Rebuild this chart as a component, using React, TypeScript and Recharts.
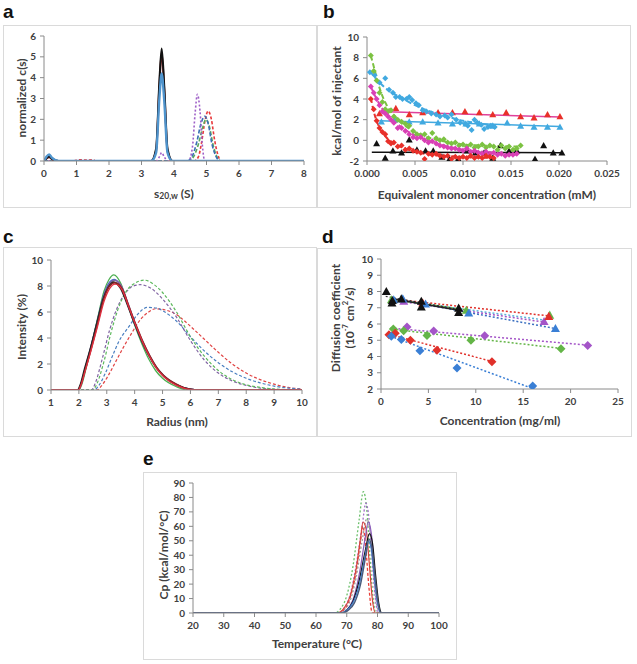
import React from "react"
import { ComposedChart, Line, Scatter, XAxis, YAxis } from "recharts"

type Pt = [number, number]

// ---------- panel a : c(s) distributions ----------
const aBlack: Pt[] = [[0, 0], [0.08, 0.15], [0.16, 0.22], [0.25, 0.1], [0.45, 0], [3.3, 0], [3.45, 0.6], [3.55, 3.8], [3.62, 5.4], [3.7, 3.6], [3.8, 0.6], [3.95, 0], [8, 0]]
const aDarkRed: Pt[] = [[0, 0], [0.08, 0.12], [0.16, 0.18], [0.25, 0.08], [0.45, 0], [3.3, 0], [3.45, 0.5], [3.55, 3.6], [3.62, 5.2], [3.7, 3.4], [3.8, 0.5], [3.95, 0], [8, 0]]
const aBlue: Pt[] = [[0, 0], [0.08, 0.22], [0.16, 0.32], [0.25, 0.15], [0.45, 0], [3.3, 0], [3.45, 0.4], [3.55, 3.0], [3.62, 4.2], [3.7, 2.9], [3.8, 0.4], [3.95, 0], [8, 0]]
const aPurpleD: Pt[] = [[0, 0], [3.45, 0], [3.55, 0.2], [3.62, 0.4], [3.7, 0.2], [3.8, 0], [4.45, 0], [4.57, 0.7], [4.65, 2.3], [4.72, 3.2], [4.8, 2.4], [4.87, 0.8], [4.95, 0], [8, 0]]
const aRedD: Pt[] = [[0, 0], [0.9, 0], [1.1, 0.06], [1.3, 0.04], [1.5, 0.06], [1.6, 0], [4.62, 0], [4.75, 0.2], [4.85, 0.9], [4.95, 1.9], [5.05, 2.4], [5.15, 2.0], [5.25, 1.0], [5.35, 0.3], [5.45, 0], [8, 0]]
const aGreenD: Pt[] = [[0, 0], [4.45, 0], [4.6, 0.2], [4.75, 0.8], [4.88, 1.6], [4.98, 2.0], [5.08, 1.7], [5.2, 0.8], [5.32, 0.2], [5.45, 0], [8, 0]]
const aBlueD: Pt[] = [[0, 0], [4.4, 0], [4.55, 0.2], [4.7, 0.9], [4.83, 1.8], [4.95, 2.15], [5.05, 1.8], [5.17, 0.8], [5.3, 0.2], [5.42, 0], [8, 0]]
const aXTicks = [0, 1, 2, 3, 4, 5, 6, 7, 8]
const aYTicks = [0, 1, 2, 3, 4, 5, 6]

// ---------- panel b : ITC ----------
const bBlueDia: Pt[] = [[0.0003, 6.6], [0.0008, 6.3], [0.0013, 5.6], [0.0019, 6.0], [0.0023, 4.9], [0.0027, 4.6], [0.003, 4.2], [0.0034, 4.2], [0.0037, 4.0], [0.0041, 4.0], [0.0044, 4.2], [0.0047, 3.9], [0.0051, 3.6], [0.0054, 3.4], [0.0058, 2.9], [0.0062, 2.8], [0.0067, 2.6], [0.0072, 2.5], [0.0076, 2.3], [0.0081, 2.4], [0.0084, 2.2], [0.0088, 2.5], [0.0093, 2.0], [0.0097, 1.7], [0.0102, 1.6], [0.0105, 1.4], [0.0109, 1.0], [0.0112, 2.0], [0.0115, 1.7], [0.0119, 1.5], [0.0122, 1.1], [0.0126, 1.3], [0.0129, 1.4], [0.0133, 1.3]]
const bGreenDia: Pt[] = [[0.0004, 8.2], [0.0007, 6.7], [0.001, 5.8], [0.0013, 4.6], [0.0016, 3.7], [0.0019, 3.0], [0.0022, 2.8], [0.0025, 2.9], [0.0028, 2.3], [0.0032, 2.0], [0.0036, 1.8], [0.004, 1.6], [0.0044, 1.4], [0.0048, 0.9], [0.0052, 0.6], [0.0056, 0.5], [0.006, 0.6], [0.0064, 0.2], [0.0068, 0.7], [0.0072, 0.2], [0.0076, 0.0], [0.008, 0.1], [0.0084, -0.2], [0.0088, -0.3], [0.0092, -0.2], [0.0096, -0.5], [0.01, -0.4], [0.0104, -0.6], [0.0108, -0.4], [0.0112, -0.7], [0.0116, -0.6], [0.012, -0.4], [0.0124, -0.7], [0.0128, -0.5], [0.0132, -0.6], [0.0136, -0.9], [0.014, -0.5], [0.0144, -0.8], [0.0148, -0.6], [0.0152, -0.9], [0.0156, -0.8], [0.016, -0.5]]
const bMagentaDia: Pt[] = [[0.0004, 5.2], [0.0007, 4.6], [0.001, 4.0], [0.0013, 3.4], [0.0016, 2.8], [0.0019, 2.6], [0.0022, 2.3], [0.0025, 2.0], [0.0028, 1.7], [0.0032, 1.2], [0.0036, 1.2], [0.004, 0.9], [0.0044, 0.6], [0.0048, 0.3], [0.0052, 0.2], [0.0056, 0.3], [0.006, 0.0], [0.0064, -0.2], [0.0068, -0.1], [0.0072, -0.3], [0.0076, -0.5], [0.008, -0.6], [0.0084, -0.7], [0.0088, -0.8], [0.0092, -0.8], [0.0096, -0.9], [0.01, -1.0], [0.0104, -0.8], [0.0108, -1.1], [0.0112, -1.0], [0.0116, -1.2], [0.012, -1.3], [0.0124, -1.1], [0.0128, -1.3], [0.0132, -1.2], [0.0136, -1.4], [0.014, -1.3], [0.0144, -1.5], [0.0148, -1.4], [0.0152, -1.4], [0.0156, -1.3]]
const bRedDia: Pt[] = [[0.0004, 4.0], [0.0007, 3.0], [0.001, 1.9], [0.0013, 1.2], [0.0016, 0.8], [0.0019, 0.6], [0.0022, -0.1], [0.0025, -0.3], [0.0028, -0.2], [0.0032, -0.6], [0.0036, -0.5], [0.004, -0.9], [0.0044, -0.8], [0.0048, -1.0], [0.0052, -1.1], [0.0056, -1.2], [0.006, -1.8], [0.0064, -1.3], [0.0068, -1.4], [0.0072, -1.3], [0.0076, -1.5], [0.008, -1.6], [0.0084, -1.5], [0.0088, -1.8], [0.0092, -1.6], [0.0096, -1.7], [0.01, -1.6], [0.0104, -1.7], [0.0108, -1.5], [0.0112, -1.7], [0.0116, -1.6], [0.012, -1.7], [0.0124, -1.5], [0.0128, -1.6], [0.0132, -1.7]]
const bRedTri: Pt[] = [[0.0013, 2.6], [0.003, 3.1], [0.0044, 2.5], [0.0058, 2.7], [0.0074, 2.7], [0.0089, 2.7], [0.0102, 2.8], [0.0117, 2.7], [0.0131, 2.5], [0.0145, 2.7], [0.016, 2.3], [0.0174, 2.2], [0.0188, 2.5], [0.0201, 2.3]]
const bBlueTri: Pt[] = [[0.0015, 1.8], [0.0029, 2.0], [0.0044, 1.8], [0.0058, 1.8], [0.0074, 1.7], [0.0089, 1.6], [0.0103, 1.6], [0.0117, 1.6], [0.0131, 1.4], [0.0146, 1.7], [0.016, 1.4], [0.0174, 1.3], [0.0188, 1.3], [0.0201, 1.3]]
const bBlackTri: Pt[] = [[0.001, -0.3], [0.0019, -1.7], [0.0027, -1.0], [0.0036, -1.2], [0.0044, 0.05], [0.0052, -0.9], [0.0061, -1.0], [0.0069, -1.0], [0.0078, -1.6], [0.0086, -1.8], [0.0095, -1.8], [0.0104, -1.0], [0.0113, -1.2], [0.0122, -1.2], [0.0131, -1.7], [0.0139, -0.5], [0.0148, -1.0], [0.0156, -1.0], [0.0175, -1.8], [0.0184, -0.5], [0.0194, -1.2], [0.0203, -1.2]]
const bBlueFit: Pt[] = [[0.0003, 6.7], [0.001, 5.9], [0.002, 5.0], [0.003, 4.4], [0.004, 3.9], [0.005, 3.4], [0.006, 3.0], [0.008, 2.4], [0.01, 1.9], [0.012, 1.6], [0.0135, 1.4]]
const bGreenFit: Pt[] = [[0.0004, 8.2], [0.0008, 6.8], [0.0012, 5.4], [0.0016, 4.3], [0.002, 3.5], [0.003, 2.2], [0.004, 1.4], [0.005, 0.8], [0.006, 0.4], [0.008, -0.1], [0.01, -0.4], [0.012, -0.5], [0.016, -0.6]]
const bMagentaFit: Pt[] = [[0.0004, 5.2], [0.001, 4.0], [0.0015, 3.2], [0.002, 2.6], [0.003, 1.7], [0.004, 1.0], [0.005, 0.5], [0.006, 0.1], [0.008, -0.5], [0.01, -0.9], [0.012, -1.1], [0.0155, -1.4]]
const bRedFit: Pt[] = [[0.0004, 4.1], [0.0007, 2.8], [0.001, 1.9], [0.0015, 0.9], [0.002, 0.3], [0.003, -0.4], [0.004, -0.8], [0.005, -1.1], [0.006, -1.3], [0.008, -1.5], [0.01, -1.6], [0.013, -1.7]]
const bPinkLine: Pt[] = [[0.0013, 2.8], [0.0201, 2.25]]
const bBlueLine: Pt[] = [[0.0013, 1.9], [0.0201, 1.35]]
const bBlackLine: Pt[] = [[0.0005, -1.15], [0.0203, -1.2]]
const bXTicks = [0, 0.005, 0.01, 0.015, 0.02, 0.025]
const bYTicks = [-2, 0, 2, 4, 6, 8, 10]

// ---------- panel c : DLS intensity ----------
const cGreen: Pt[] = [[1, 0], [2.0, 0], [2.1, 0.4], [2.25, 1.6], [2.45, 3.4], [2.68, 5.6], [2.9, 7.6], [3.08, 8.5], [3.25, 8.85], [3.5, 8.2], [3.75, 6.6], [4.0, 5.0], [4.25, 3.6], [4.5, 2.4], [4.75, 1.5], [5.0, 0.9], [5.5, 0.25], [5.9, 0], [10, 0]]
const cBlue: Pt[] = [[1, 0], [1.97, 0], [2.07, 0.4], [2.22, 1.6], [2.42, 3.2], [2.66, 5.3], [2.88, 7.2], [3.07, 8.2], [3.27, 8.5], [3.5, 8.0], [3.75, 6.6], [4.0, 5.1], [4.25, 3.8], [4.5, 2.7], [4.75, 1.8], [5.0, 1.15], [5.5, 0.4], [6.0, 0.05], [6.3, 0], [10, 0]]
const cPurple: Pt[] = [[1, 0], [1.97, 0], [2.07, 0.4], [2.22, 1.6], [2.42, 3.2], [2.66, 5.2], [2.88, 7.1], [3.07, 8.1], [3.28, 8.45], [3.52, 8.0], [3.77, 6.6], [4.02, 5.1], [4.27, 3.8], [4.52, 2.7], [4.77, 1.8], [5.02, 1.15], [5.5, 0.4], [6.0, 0.05], [6.3, 0], [10, 0]]
const cBlack: Pt[] = [[1, 0], [1.95, 0], [2.05, 0.4], [2.2, 1.6], [2.4, 3.1], [2.64, 5.1], [2.87, 7.0], [3.05, 7.9], [3.25, 8.3], [3.5, 7.8], [3.75, 6.5], [4.0, 5.1], [4.25, 3.8], [4.5, 2.7], [4.75, 1.8], [5.0, 1.15], [5.5, 0.4], [6.0, 0.05], [6.3, 0], [10, 0]]
const cDarkRed: Pt[] = [[1, 0], [1.97, 0], [2.07, 0.4], [2.22, 1.5], [2.42, 3.0], [2.66, 5.0], [2.88, 6.9], [3.07, 7.9], [3.3, 8.25], [3.55, 7.8], [3.8, 6.4], [4.05, 5.0], [4.3, 3.7], [4.55, 2.6], [4.8, 1.7], [5.05, 1.1], [5.5, 0.45], [6.0, 0.05], [6.3, 0], [10, 0]]
const cRed: Pt[] = [[1, 0], [1.98, 0], [2.08, 0.4], [2.23, 1.5], [2.43, 3.0], [2.67, 4.9], [2.9, 6.8], [3.1, 7.8], [3.3, 8.15], [3.55, 7.7], [3.8, 6.3], [4.05, 4.9], [4.3, 3.6], [4.55, 2.5], [4.8, 1.6], [5.05, 1.0], [5.5, 0.35], [6.0, 0.03], [6.3, 0], [10, 0]]
const cGreenD: Pt[] = [[1, 0], [2.5, 0], [2.65, 0.5], [2.9, 2.2], [3.15, 4.4], [3.4, 6.2], [3.7, 7.6], [4.0, 8.2], [4.35, 8.45], [4.7, 8.1], [5.0, 7.5], [5.5, 6.0], [6.0, 4.1], [6.5, 2.6], [7.0, 1.5], [7.5, 0.8], [8.0, 0.4], [8.5, 0.2], [9.0, 0.08], [9.5, 0.02], [10, 0]]
const cPurpleD: Pt[] = [[1, 0], [2.45, 0], [2.6, 0.6], [2.85, 2.5], [3.1, 4.6], [3.35, 6.2], [3.65, 7.4], [3.95, 8.0], [4.2, 8.1], [4.6, 7.8], [5.0, 7.0], [5.5, 5.6], [6.0, 3.8], [6.5, 2.3], [7.0, 1.3], [7.5, 0.7], [8.0, 0.35], [8.5, 0.15], [9.0, 0.05], [9.5, 0], [10, 0]]
const cBlueD: Pt[] = [[1, 0], [2.55, 0], [2.7, 0.3], [2.95, 1.3], [3.2, 2.6], [3.45, 3.8], [3.8, 4.9], [4.1, 5.8], [4.45, 6.35], [4.8, 6.3], [5.0, 6.1], [5.5, 5.3], [6.0, 4.1], [6.5, 3.0], [7.0, 2.1], [7.5, 1.4], [8.0, 0.9], [8.5, 0.55], [9.0, 0.3], [9.5, 0.15], [10, 0.07]]
const cRedD: Pt[] = [[1, 0], [2.65, 0], [2.8, 0.3], [3.05, 1.1], [3.3, 2.1], [3.6, 3.3], [3.9, 4.4], [4.2, 5.4], [4.5, 6.0], [4.75, 6.25], [5.0, 6.2], [5.5, 5.8], [6.0, 4.9], [6.5, 3.9], [7.0, 2.9], [7.5, 2.0], [8.0, 1.3], [8.5, 0.8], [9.0, 0.45], [9.5, 0.2], [10, 0.08]]
const cXTicks = [1, 2, 3, 4, 5, 6, 7, 8, 9, 10]
const cYTicks = [0, 2, 4, 6, 8, 10]

// ---------- panel d : diffusion coefficient ----------
const dBlackTri: Pt[] = [[0.56, 8.0], [1.16, 7.3], [1.2, 7.45], [2.14, 7.55], [4.25, 7.4], [4.25, 7.05], [8.19, 6.98], [8.19, 6.72]]
const dBlueTri: Pt[] = [[1.34, 7.5], [2.3, 7.55], [4.7, 7.23], [9.25, 6.68], [18.4, 5.73]]
const dRedTri: Pt[] = [[4.4, 7.3], [17.7, 6.47]]
const dPurpleTri: Pt[] = [[2.4, 7.4], [17.2, 6.16]]
const dGreenTri: Pt[] = [[1.1, 7.5], [9.0, 6.85], [17.8, 6.55]]
const dPurpleDia: Pt[] = [[2.74, 5.82], [5.56, 5.57], [10.94, 5.28], [21.8, 4.67]]
const dGreenDia: Pt[] = [[1.3, 5.69], [2.39, 5.59], [4.85, 5.3], [9.49, 5.0], [18.99, 4.48]]
const dRedDia: Pt[] = [[0.84, 5.34], [1.5, 5.43], [3.1, 5.0], [5.9, 4.38], [11.7, 3.68]]
const dBlueDia: Pt[] = [[1.09, 5.24], [2.14, 5.04], [4.11, 4.36], [8.02, 3.29], [16.0, 2.18]]
const dBlackFit: Pt[] = [[1.0, 7.57], [8.2, 6.85]]
const dBlackDotFit: Pt[] = [[0.5, 7.7], [8.2, 6.9]]
const dRedFit: Pt[] = [[1.0, 7.55], [17.7, 6.5]]
const dCyanFit: Pt[] = [[1.3, 7.5], [17.2, 6.25]]
const dPurpleTriFit: Pt[] = [[2.2, 7.38], [17.2, 6.12]]
const dBlueTriFit: Pt[] = [[1.0, 7.6], [18.4, 5.72]]
const dGreenTriFit: Pt[] = [[1.1, 7.5], [9.0, 6.88]]
const dPurpleFit: Pt[] = [[1.0, 5.75], [21.8, 4.7]]
const dGreenFit: Pt[] = [[1.2, 5.68], [19.0, 4.5]]
const dRedFit2: Pt[] = [[0.6, 5.4], [11.7, 3.7]]
const dBlueFit: Pt[] = [[1.0, 5.25], [15.9, 2.05]]
const dXTicks = [0, 5, 10, 15, 20, 25]
const dYTicks = [2, 3, 4, 5, 6, 7, 8, 9, 10]

// ---------- panel e : DSC ----------
const eGreenD: Pt[] = [[20, 0], [66, 0], [68, 3], [70, 12], [72, 32], [74, 64], [75.4, 84], [76.5, 72], [77.5, 40], [78.5, 12], [79.5, 0], [100, 0]]
const ePurpleD: Pt[] = [[20, 0], [67, 0], [69, 3], [71, 12], [73, 32], [75, 60], [76.2, 76], [77.2, 66], [78.2, 38], [79.2, 12], [80.2, 0], [100, 0]]
const eGrayD: Pt[] = [[20, 0], [67, 0], [69, 2], [71, 8], [73, 24], [75, 50], [76.5, 65], [77.5, 58], [78.5, 34], [79.5, 10], [80.5, 0], [100, 0]]
const eRedD: Pt[] = [[20, 0], [67, 0], [69, 2], [71, 10], [73, 28], [74.5, 50], [75.2, 60], [76.2, 45], [77.2, 18], [78.3, 0], [100, 0]]
const eRed: Pt[] = [[20, 0], [67, 0], [69, 3], [71, 11], [73, 30], [74.5, 52], [75.3, 63], [76.3, 58], [77.3, 35], [78.3, 10], [79.3, 0], [100, 0]]
const ePurple: Pt[] = [[20, 0], [68, 0], [70, 2], [72, 9], [74, 26], [76, 52], [77, 63], [78, 55], [79, 30], [80, 8], [81, 0], [100, 0]]
const eBlack: Pt[] = [[20, 0], [68, 0], [70, 2], [72, 8], [74, 22], [76, 43], [77.4, 55], [78.4, 48], [79.4, 26], [80.4, 7], [81.4, 0], [100, 0]]
const eBlue: Pt[] = [[20, 0], [68, 0], [70, 2], [72, 7], [74, 19], [76, 40], [77, 50], [78, 44], [79, 24], [80, 7], [81, 0], [100, 0]]
const eNavy: Pt[] = [[20, 0], [68.5, 0], [70.5, 2], [72.5, 7], [74.5, 20], [76.3, 41], [77.2, 51], [78.2, 45], [79.2, 25], [80.2, 7], [81.2, 0], [100, 0]]
const eXTicks = [20, 30, 40, 50, 60, 70, 80, 90, 100]
const eYTicks = [0, 10, 20, 30, 40, 50, 60, 70, 80, 90]

const TICK_FONT = "Lato, 'Liberation Sans', sans-serif"
const AXIS = "#8a8a8a"

const toXY = (pts: Pt[]) => pts.map(([x, y]) => ({ x, y }))

function curve(key: string, pts: Pt[], color: string, width = 1.5, dash?: string, type: any = "monotone") {
	return (
		<Line key={key} data={toXY(pts)} dataKey="y" type={type} stroke={color} strokeWidth={width}
			strokeDasharray={dash} dot={false} activeDot={false} isAnimationActive={false} />
	)
}

function marks(key: string, pts: Pt[], color: string, kind: "dia" | "tri", r = 3.5) {
	const shape = (p: any) => {
		const { cx, cy } = p
		const d = kind === "dia"
			? `M${cx},${cy - r}L${cx + r},${cy}L${cx},${cy + r}L${cx - r},${cy}Z`
			: `M${cx},${cy - r}L${cx + r},${cy + r * 0.8}L${cx - r},${cy + r * 0.8}Z`
		return <path d={d} fill={color} />
	}
	return <Scatter key={key} data={toXY(pts)} dataKey="y" shape={shape} isAnimationActive={false} />
}

type ChartProps = {
	left: number; top: number; width: number; height: number
	pl: number; pt: number; pr: number; pb: number
	xDomain: number[]; xTicks: number[]; yDomain: number[]; yTicks: number[]
	xFmt?: (v: number) => string
	children: React.ReactNode
}

function Chart(p: ChartProps) {
	const tick = { fill: "#404040", fontSize: 10, fontWeight: 700, fontFamily: TICK_FONT }
	return (
		<>
			<div style={{ position: "absolute", left: p.left, top: p.top, width: p.width, height: p.height, border: "1px solid #dadada", boxSizing: "border-box" }} />
			<div style={{ position: "absolute", left: p.left, top: p.top }}>
				<ComposedChart width={p.width} height={p.height} margin={{ top: p.pt, right: p.pr, bottom: p.pb - 26, left: 0 }}>
					<XAxis type="number" dataKey="x" domain={p.xDomain} ticks={p.xTicks} interval={0} allowDataOverflow
						height={26} tick={tick} tickSize={4} tickMargin={5} tickFormatter={p.xFmt}
						axisLine={{ stroke: AXIS }} tickLine={{ stroke: AXIS }} />
					<YAxis type="number" domain={p.yDomain} ticks={p.yTicks} interval={0} allowDataOverflow
						width={p.pl} tick={tick} tickSize={4} tickMargin={4}
						axisLine={{ stroke: AXIS }} tickLine={{ stroke: AXIS }} />
					{p.children}
				</ComposedChart>
			</div>
		</>
	)
}

const titleStyle = { fontFamily: TICK_FONT, fontWeight: 700, fontSize: 12, fill: "#404040" } as const
const letterStyle = { fontFamily: "'Liberation Sans', Arial, sans-serif", fontWeight: 700, fontSize: 19, fill: "#111" } as const

function VTitle({ x, y, children }: { x: number; y: number; children: React.ReactNode }) {
	return (
		<text x={x} y={y} transform={`rotate(-90 ${x} ${y})`} textAnchor="middle" dominantBaseline="central" style={titleStyle}>
			{children}
		</text>
	)
}

function HTitle({ x, y, children }: { x: number; y: number; children: React.ReactNode }) {
	return (
		<text x={x} y={y} textAnchor="middle" dominantBaseline="central" style={titleStyle}>
			{children}
		</text>
	)
}

export default function App() {
	return (
		<div style={{ position: "absolute", left: 0, top: 0, width: 637, height: 664, background: "#fff", overflow: "hidden" }}>
			{/* a */}
			<Chart left={3} top={25} width={314} height={183} pl={41} pt={11} pr={13} pb={47}
				xDomain={[0, 8]} xTicks={aXTicks} yDomain={[0, 6]} yTicks={aYTicks}>
				{[
					curve("aRedD", aRedD, "#e8393b", 1.6, "3 2"),
					curve("aGreenD", aGreenD, "#5aa85a", 1.6, "4 2"),
					curve("aBlueD", aBlueD, "#3b6fb5", 1.6, "4 2"),
					curve("aPurpleD", aPurpleD, "#9e5fc7", 1.6, "2 2"),
					curve("aDarkRed", aDarkRed, "#8b2a2a", 2),
					curve("aBlack", aBlack, "#111", 2),
					curve("aBlue", aBlue, "#4f94cd", 2.4),
				]}
			</Chart>

			{/* b */}
			<Chart left={317} top={25} width={314} height={183} pl={50} pt={12} pr={24} pb={47}
				xDomain={[0, 0.025]} xTicks={bXTicks} yDomain={[-2, 10]} yTicks={bYTicks}
				xFmt={(v) => v.toFixed(3)}>
				{[
					curve("bBlackLine", bBlackLine, "#111", 1.5, undefined, "linear"),
					marks("bBlackTri", bBlackTri, "#111", "tri"),
					curve("bBlueLine", bBlueLine, "#41a9e0", 1.5, undefined, "linear"),
					curve("bPinkLine", bPinkLine, "#e0409a", 1.5, undefined, "linear"),
					marks("bBlueTri", bBlueTri, "#41a9e0", "tri"),
					marks("bRedTri", bRedTri, "#e8302a", "tri"),
					curve("bBlueFit", bBlueFit, "#41a9e0", 2, "5 3"),
					marks("bBlueDia", bBlueDia, "#41a9e0", "dia", 3),
					curve("bGreenFit", bGreenFit, "#7cc242", 2, "5 3"),
					marks("bGreenDia", bGreenDia, "#7cc242", "dia", 3),
					curve("bMagentaFit", bMagentaFit, "#d940b5", 2, "5 3"),
					marks("bMagentaDia", bMagentaDia, "#d940b5", "dia", 3),
					curve("bRedFit", bRedFit, "#e8302a", 2, "5 3"),
					marks("bRedDia", bRedDia, "#e8302a", "dia", 3),
				]}
			</Chart>

			{/* c */}
			<Chart left={3} top={247} width={314} height={190} pl={48} pt={13} pr={15} pb={47}
				xDomain={[1, 10]} xTicks={cXTicks} yDomain={[0, 10]} yTicks={cYTicks}>
				{[
					curve("cRedD", cRedD, "#e04545", 1.2, "3 2"),
					curve("cBlueD", cBlueD, "#4a7fc0", 1.2, "3 2"),
					curve("cPurpleD", cPurpleD, "#8064a2", 1.2, "3 2"),
					curve("cGreenD", cGreenD, "#5cb85c", 1.2, "3 2"),
					curve("cGreen", cGreen, "#4caf50", 1.3),
					curve("cBlue", cBlue, "#4472c4", 1.5),
					curve("cPurple", cPurple, "#7f60a8", 1.5),
					curve("cBlack", cBlack, "#222", 1.6),
					curve("cDarkRed", cDarkRed, "#8b2525", 1.5),
					curve("cRed", cRed, "#e03040", 1.3),
				]}
			</Chart>

			{/* d */}
			<Chart left={317} top={248} width={315} height={189} pl={64} pt={11} pr={14} pb={48}
				xDomain={[0, 25]} xTicks={dXTicks} yDomain={[2, 10]} yTicks={dYTicks}>
				{[
					curve("dPurpleFit", dPurpleFit, "#a455c8", 1.5, "2 2", "linear"),
					curve("dGreenFit", dGreenFit, "#64b548", 1.5, "2 2", "linear"),
					curve("dRedFit2", dRedFit2, "#e0302a", 1.5, "2 2", "linear"),
					curve("dBlueFit", dBlueFit, "#3a7fd5", 1.5, "2 2", "linear"),
					curve("dRedFit", dRedFit, "#e0302a", 1.5, "2 2", "linear"),
					curve("dCyanFit", dCyanFit, "#5fb3d9", 1.5, "2 2", "linear"),
					curve("dPurpleTriFit", dPurpleTriFit, "#a455c8", 1.5, "2 2", "linear"),
					curve("dBlueTriFit", dBlueTriFit, "#3a6fc0", 1.5, "2 2", "linear"),
					curve("dGreenTriFit", dGreenTriFit, "#64b548", 1.5, "2 2", "linear"),
					curve("dBlackDotFit", dBlackDotFit, "#333", 1.2, "2 2", "linear"),
					curve("dBlackFit", dBlackFit, "#222", 1.5, undefined, "linear"),
					marks("dPurpleDia", dPurpleDia, "#a455c8", "dia", 4.5),
					marks("dGreenDia", dGreenDia, "#64b548", "dia", 4.5),
					marks("dRedDia", dRedDia, "#e0302a", "dia", 4.5),
					marks("dBlueDia", dBlueDia, "#3a7fd5", "dia", 4.5),
					marks("dGreenTri", dGreenTri, "#64b548", "tri", 4.5),
					marks("dPurpleTri", dPurpleTri, "#a455c8", "tri", 4.5),
					marks("dRedTri", dRedTri, "#e0302a", "tri", 4.5),
					marks("dBlueTri", dBlueTri, "#3a7fd5", "tri", 4.5),
					marks("dBlackTri", dBlackTri, "#111", "tri", 4.5),
				]}
			</Chart>

			{/* e */}
			<Chart left={143} top={472} width={314} height={188} pl={50} pt={11} pr={18} pb={47}
				xDomain={[20, 100]} xTicks={eXTicks} yDomain={[0, 90]} yTicks={eYTicks}>
				{[
					curve("eRedD", eRedD, "#e8403a", 1.3, "3 2"),
					curve("eGrayD", eGrayD, "#9a9a9a", 1.3, "2 2"),
					curve("eGreenD", eGreenD, "#6bbf6b", 1.3, "2 2"),
					curve("ePurpleD", ePurpleD, "#a070c8", 1.3, "2 2"),
					curve("eRed", eRed, "#d9453a", 1.2),
					curve("ePurple", ePurple, "#8a5bb8", 1.2),
					curve("eBlack", eBlack, "#111", 1.2),
					curve("eBlue", eBlue, "#3f7fd0", 1.2),
					curve("eNavy", eNavy, "#4a5a7a", 1.4),
				]}
			</Chart>

			<svg width={637} height={664} style={{ position: "absolute", left: 0, top: 0, pointerEvents: "none" }}>
				<text x={3} y={18} style={letterStyle}>a</text>
				<text x={323} y={18} style={letterStyle}>b</text>
				<text x={3} y={243} style={letterStyle}>c</text>
				<text x={322} y={243} style={letterStyle}>d</text>
				<text x={143} y={465} style={letterStyle}>e</text>

				<VTitle x={21} y={98}>normalized c(s)</VTitle>
				<HTitle x={174} y={193}>
					s<tspan dy={3} fontSize={8.5}>20,w</tspan><tspan dy={-3}> (S)</tspan>
				</HTitle>

				<VTitle x={336} y={101}>kcal/mol of injectant</VTitle>
				<HTitle x={487} y={194}>Equivalent monomer concentration (mM)</HTitle>

				<VTitle x={21} y={327}>Intensity (%)</VTitle>
				<HTitle x={177} y={421}>Radius (nm)</HTitle>

				<VTitle x={335} y={318}>Diffusion coefficient</VTitle>
				<VTitle x={349} y={318}>
					(10<tspan dy={-4} fontSize={7.5}>-7</tspan><tspan dy={4}> cm</tspan><tspan dy={-4} fontSize={7.5}>2</tspan><tspan dy={4}>/s)</tspan>
				</VTitle>
				<HTitle x={500} y={420}>Concentration (mg/ml)</HTitle>

				<VTitle x={163} y={555}>Cp (kcal/mol/°C)</VTitle>
				<HTitle x={317} y={643}>Temperature (°C)</HTitle>
			</svg>
		</div>
	)
}
